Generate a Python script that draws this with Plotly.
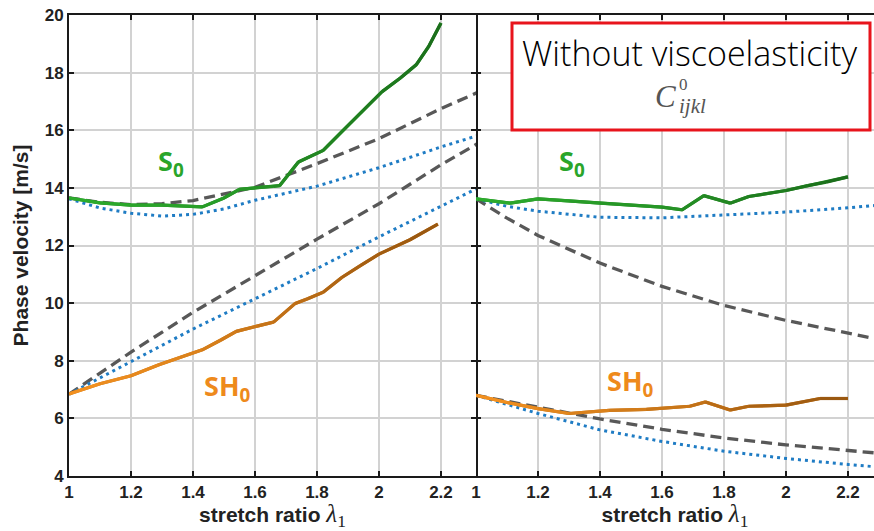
import plotly.graph_objects as go

# ---------------- data ----------------
# Left panel
xL_S0 = [1.0, 1.1, 1.2, 1.3, 1.43, 1.5, 1.55, 1.6, 1.66, 1.68, 1.74, 1.82, 1.89, 1.95, 2.01, 2.07, 2.12, 2.16, 2.2]
vL_S0 = [13.65, 13.48, 13.4, 13.4, 13.34, 13.65, 13.95, 14.0, 14.05, 14.08, 14.9, 15.3, 16.06, 16.7, 17.34, 17.82, 18.27, 18.9, 19.72]

xL_SH0 = [1.0, 1.1, 1.2, 1.29, 1.36, 1.43, 1.49, 1.54, 1.61, 1.66, 1.73, 1.77, 1.82, 1.88, 1.94, 2.0, 2.1, 2.19]
vL_SH0 = [6.85, 7.2, 7.48, 7.86, 8.12, 8.38, 8.72, 9.02, 9.21, 9.34, 9.99, 10.15, 10.38, 10.89, 11.3, 11.7, 12.2, 12.74]

xL_dash_up = [1.0, 1.1, 1.2, 1.3, 1.4, 1.5, 1.6, 1.8, 2.0, 2.2, 2.32]
vL_dash_up = [13.65, 13.5, 13.42, 13.45, 13.56, 13.78, 14.02, 14.84, 15.71, 16.75, 17.32]

xL_dot_up = [1.0, 1.1, 1.2, 1.3, 1.4, 1.5, 1.6, 1.8, 2.0, 2.2, 2.32]
vL_dot_up = [13.62, 13.3, 13.12, 13.02, 13.08, 13.27, 13.57, 14.06, 14.7, 15.42, 15.82]

xL_dash_lo = [1.0, 1.2, 1.4, 1.6, 1.8, 2.0, 2.2, 2.32]
vL_dash_lo = [6.84, 8.3, 9.68, 10.95, 12.22, 13.45, 14.8, 15.55]

xL_dot_lo = [1.0, 1.2, 1.4, 1.6, 1.8, 2.0, 2.2, 2.32]
vL_dot_lo = [6.84, 7.97, 9.1, 10.15, 11.2, 12.3, 13.37, 14.0]

# Right panel
xR_S0 = [1.0, 1.11, 1.2, 1.3, 1.4, 1.6, 1.665, 1.735, 1.82, 1.88, 2.0, 2.07, 2.13, 2.2]
vR_S0 = [13.62, 13.47, 13.62, 13.55, 13.47, 13.33, 13.24, 13.73, 13.47, 13.7, 13.91, 14.08, 14.2, 14.38]

xR_SH0 = [1.0, 1.1, 1.2, 1.3, 1.43, 1.55, 1.69, 1.74, 1.82, 1.88, 2.0, 2.11, 2.2]
vR_SH0 = [6.8, 6.55, 6.34, 6.17, 6.28, 6.31, 6.42, 6.57, 6.29, 6.42, 6.46, 6.69, 6.69]

xR_dash_up = [1.0, 1.1, 1.2, 1.4, 1.6, 1.8, 2.0, 2.2, 2.3]
vR_dash_up = [13.62, 12.95, 12.35, 11.39, 10.58, 9.92, 9.4, 8.94, 8.74]

xR_dot_up = [1.0, 1.1, 1.2, 1.4, 1.6, 1.8, 2.0, 2.2, 2.3]
vR_dot_up = [13.62, 13.36, 13.19, 12.98, 12.96, 13.06, 13.16, 13.31, 13.4]

xR_dash_lo = [1.0, 1.2, 1.4, 1.6, 1.8, 2.0, 2.2, 2.3]
vR_dash_lo = [6.8, 6.38, 5.98, 5.62, 5.32, 5.08, 4.88, 4.79]

xR_dot_lo = [1.0, 1.2, 1.4, 1.6, 1.8, 2.0, 2.2, 2.3]
vR_dot_lo = [6.8, 6.17, 5.6, 5.2, 4.86, 4.61, 4.4, 4.31]

x_ticks = [1.0, 1.2, 1.4, 1.6, 1.8, 2.0, 2.2]
x_tick_text = ["1", "1.2", "1.4", "1.6", "1.8", "2", "2.2"]
y_ticks = [4, 6, 8, 10, 12, 14, 16, 18, 20]

# ---------------- styles ----------------
GRAY = "#585858"
BLUE = "#1f7cc4"
DASH = "11px,6px"
DOT = "3px,4px"


def mix(c0, c1, t):
    a = [int(c0[i:i + 2], 16) for i in (1, 3, 5)]
    b = [int(c1[i:i + 2], 16) for i in (1, 3, 5)]
    return "#" + "".join("%02x" % int(round(a[k] + (b[k] - a[k]) * t)) for k in range(3))


fig = go.Figure()


def add_line(x, y, xa, ya, color, dash=None, width=3):
    fig.add_trace(go.Scatter(x=x, y=y, xaxis=xa, yaxis=ya, mode="lines",
                             line=dict(color=color, width=width, dash=dash),
                             hoverinfo="skip"))


def add_gradient(x, y, xa, ya, c0, c1, width=3.2):
    add_line(x, y, xa, ya, mix(c0, c1, 0.5), width=width)
    n = len(x) - 1
    for i in range(n):
        add_line(x[i:i + 2], y[i:i + 2], xa, ya, mix(c0, c1, i / max(n - 1, 1)), width=width)


for xa, ya, d in [("x", "y", (xL_dash_up, vL_dash_up, xL_dot_up, vL_dot_up, xL_dash_lo, vL_dash_lo, xL_dot_lo, vL_dot_lo)),
                  ("x2", "y2", (xR_dash_up, vR_dash_up, xR_dot_up, vR_dot_up, xR_dash_lo, vR_dash_lo, xR_dot_lo, vR_dot_lo))]:
    add_line(d[0], d[1], xa, ya, GRAY, DASH, 3.3)
    add_line(d[4], d[5], xa, ya, GRAY, DASH, 3.3)
    add_line(d[2], d[3], xa, ya, BLUE, DOT)
    add_line(d[6], d[7], xa, ya, BLUE, DOT)

add_gradient(xL_S0, vL_S0, "x", "y", "#2cab2c", "#1b6e1b")
add_gradient(xL_SH0, vL_SH0, "x", "y", "#f2901f", "#9a5810")
add_gradient(xR_S0, vR_S0, "x2", "y2", "#2cab2c", "#1b6e1b")
add_gradient(xR_SH0, vR_SH0, "x2", "y2", "#f2901f", "#9a5810")

# ---------------- axes ----------------
tickfont = dict(family="Liberation Sans", size=17, color="#222222", weight="bold")
xtitle = ("<b>stretch ratio</b> <span style='font-family:Liberation Serif;font-style:italic;"
          "font-weight:normal;font-size:25px'>λ</span><span style='font-family:Liberation Serif;"
          "font-weight:normal;font-size:25px'><sub>1</sub></span>")
common_x = dict(tickvals=x_ticks, ticktext=x_tick_text, showgrid=True, gridcolor="#d2d2d2",
                gridwidth=1.5, showline=True, linecolor="#1a1a1a", linewidth=2, mirror="ticks",
                ticks="inside", ticklen=5, tickwidth=2, tickcolor="#1a1a1a", tickfont=tickfont,
                zeroline=False,
                title=dict(text=xtitle, font=dict(family="Liberation Sans", size=21, color="#222222"),
                           standoff=3))
common_y = dict(range=[4, 20], tickvals=y_ticks, showgrid=True, gridcolor="#d2d2d2", gridwidth=1.5,
                linecolor="#1a1a1a", linewidth=2, ticks="inside", ticklen=5,
                tickwidth=2, tickcolor="#1a1a1a", tickfont=tickfont, zeroline=False)

split = 407 / 805
fig.update_layout(
    width=874, height=531, margin=dict(l=69, r=0, t=15, b=55),
    plot_bgcolor="white", paper_bgcolor="white", showlegend=False,
    xaxis=dict(domain=[0, split], range=[1, 2.313], anchor="y", **common_x),
    xaxis2=dict(domain=[split, 1], range=[1, 2.284], anchor="y2", **common_x),
    yaxis=dict(anchor="x", mirror="ticks", showline=True,
               title=dict(text="<b>Phase velocity [m/s]</b>",
                          font=dict(family="Liberation Sans", size=21, color="#222222"), standoff=10),
               **common_y),
    yaxis2=dict(anchor="x2", showticklabels=False, showline=False, mirror=False, **common_y),
)

# ---------------- labels ----------------
lab_font = dict(family="Noto Sans", size=27, weight="bold")
fig.add_annotation(x=1.33, y=14.87, xref="x", yref="y", text="S<sub>0</sub>", showarrow=False,
                   font=dict(color="#2aa52a", **lab_font))
fig.add_annotation(x=1.51, y=7.06, xref="x", yref="y", text="SH<sub>0</sub>", showarrow=False,
                   font=dict(color="#ee8a1c", **lab_font))
fig.add_annotation(x=1.31, y=14.87, xref="x2", yref="y2", text="S<sub>0</sub>", showarrow=False,
                   font=dict(color="#2aa52a", **lab_font))
fig.add_annotation(x=1.50, y=7.23, xref="x2", yref="y2", text="SH<sub>0</sub>", showarrow=False,
                   font=dict(color="#ee8a1c", **lab_font))

# legend box
fig.add_shape(type="rect", xref="paper", yref="paper",
              x0=(512 - 69) / 805, x1=(870 - 69) / 805, y0=(476 - 130) / 461, y1=(476 - 23) / 461,
              line=dict(color="#e8141c", width=3), fillcolor="white", layer="above")


def paper_note(px, py, text, font):
    fig.add_annotation(xref="paper", yref="paper", x=(px - 69) / 805, y=(476 - py) / 461,
                       xanchor="center", yanchor="middle", text=text, showarrow=False, font=font)


paper_note(689, 53, "Without viscoelasticity", dict(family="Open Sans", size=34, weight=300, color="#000000"))
serif = "Liberation Serif"
paper_note(665, 97, "<i>C</i>", dict(family=serif, size=31, color="#555555"))
paper_note(683, 85, "0", dict(family=serif, size=17, color="#555555"))
paper_note(692, 106, "<i>ijkl</i>", dict(family=serif, size=21, color="#555555"))

fig.write_html("out.html")
